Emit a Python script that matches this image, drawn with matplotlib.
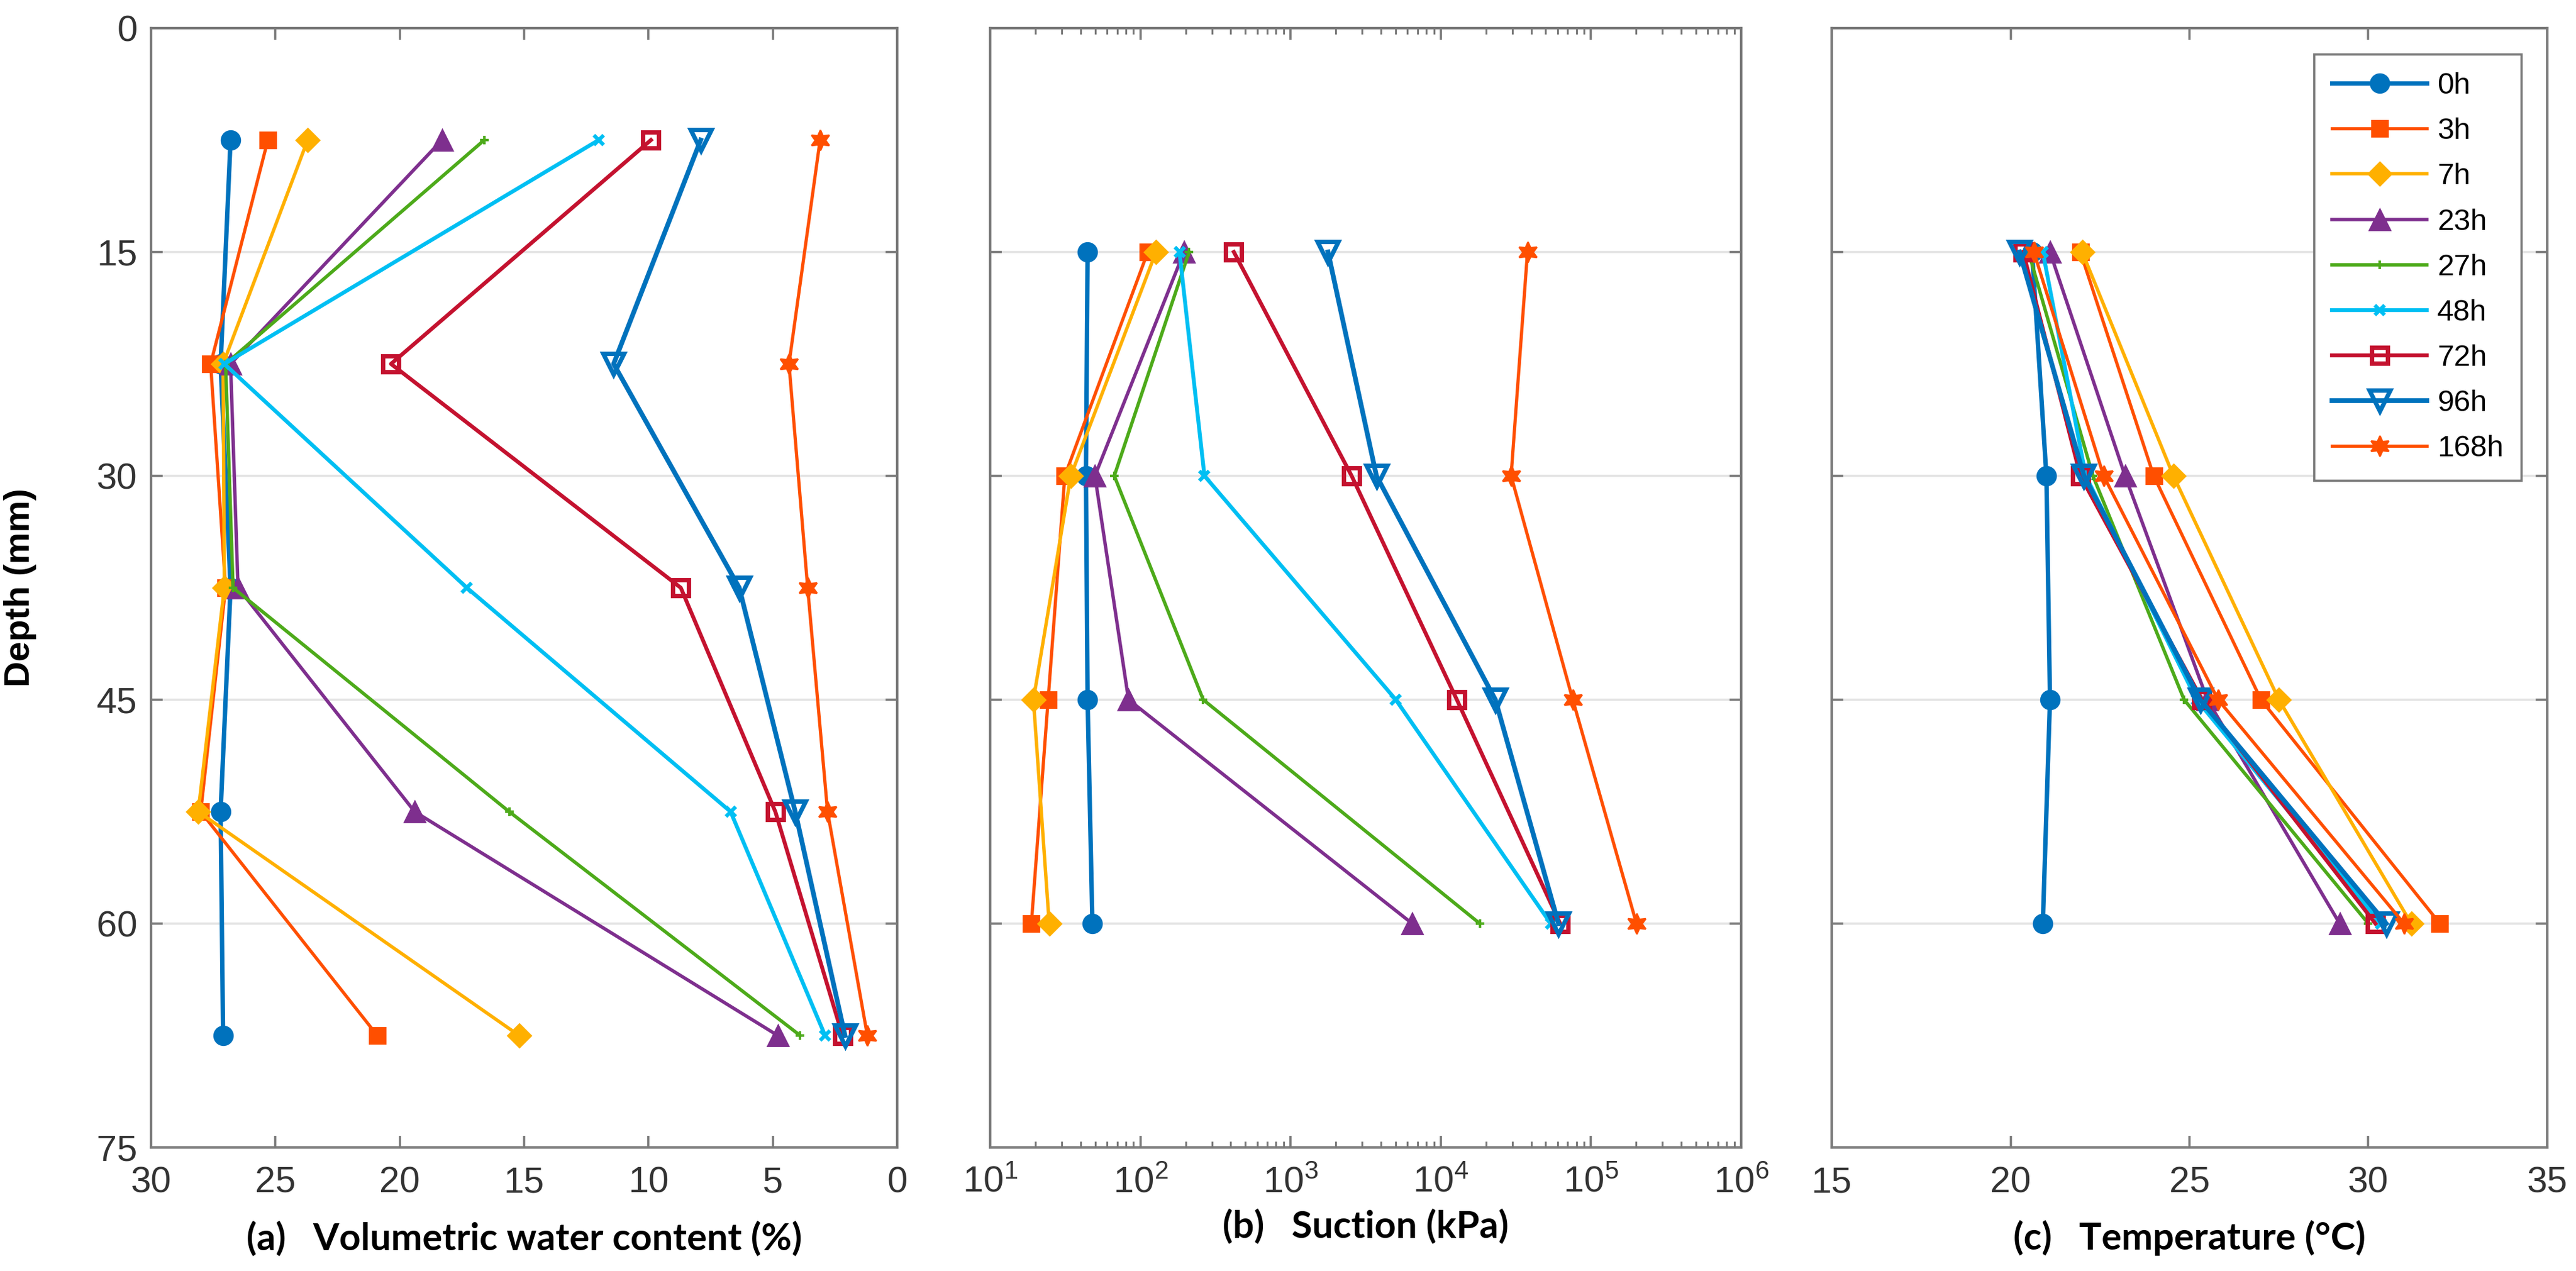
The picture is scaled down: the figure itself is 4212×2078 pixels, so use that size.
import matplotlib
matplotlib.use('Agg')
import matplotlib.pyplot as plt
from matplotlib.ticker import LogLocator, NullFormatter

plt.rcParams['font.family'] = ['Liberation Sans', 'DejaVu Sans']
plt.rcParams['mathtext.fontset'] = 'custom'
plt.rcParams['mathtext.rm'] = 'Liberation Sans'
plt.rcParams['mathtext.it'] = 'Liberation Sans:italic'

# series names (legend)
times = ['0h', '3h', '7h', '23h', '27h', '48h', '72h', '96h', '168h']

# depths of the sensors (mm)
depth_vwc = [7.5, 22.5, 37.5, 52.5, 67.5]
depth_suc = [15, 30, 45, 60]

# (a) volumetric water content (%), one row per time
vwc = [
    [26.8, 27.2, 26.8, 27.2, 27.1],
    [25.3, 27.6, 27.0, 28.0, 20.9],
    [23.7, 27.1, 27.05, 28.1, 15.2],
    [18.3, 26.8, 26.5, 19.4, 4.8],
    [16.6, 27.0, 26.7, 15.6, 3.9],
    [12.0, 27.05, 17.3, 6.7, 2.9],
    [9.9, 20.35, 8.7, 4.9, 2.2],
    [7.9, 11.4, 6.35, 4.1, 2.1],
    [3.1, 4.35, 3.6, 2.8, 1.2],
]

# (b) suction (kPa)
suction = [
    [44.5, 43.4, 44.5, 47.9],
    [112, 31.4, 24.3, 18.8],
    [127, 34.4, 19.4, 24.7],
    [195, 49.8, 83.4, 6460],
    [211, 67, 262, 18200],
    [182, 267, 5020, 54000],
    [419, 2550, 12800, 62400],
    [1775, 3730, 23100, 60800],
    [37800, 29400, 75700, 201000],
]

# (c) temperature (degC)
temperature = [
    [20.6, 21.0, 21.1, 20.9],
    [21.95, 24.0, 27.0, 32.0],
    [22.0, 24.55, 27.5, 31.2],
    [21.1, 23.2, 25.5, 29.2],
    [20.5, 22.3, 24.85, 30.0],
    [20.9, 22.1, 25.2, 30.35],
    [20.35, 21.95, 25.35, 30.2],
    [20.25, 22.05, 25.3, 30.5],
    [20.65, 22.6, 25.8, 31.0],
]

depth_ticks = [0, 15, 30, 45, 60, 75]
vwc_ticks = [30, 25, 20, 15, 10, 5, 0]
temp_ticks = [15, 20, 25, 30, 35]

hexagram = (6, 1, 0)
styles = [
    dict(color='#0072BD', marker='o', ms=11, lw=2.6),
    dict(color='#FF4F00', marker='s', ms=9.5, lw=1.9),
    dict(color='#FFB000', marker='D', ms=9.5, lw=2.0),
    dict(color='#7E2F8E', marker='^', ms=12, lw=2.0),
    dict(color='#4DAA1A', marker='+', ms=5, lw=2.0, mew=1.5),
    dict(color='#00BFF3', marker='x', ms=6, lw=2.3, mew=2.2),
    dict(color='#C4122F', marker='s', ms=9.5, lw=2.3, mfc='none', mew=2.6),
    dict(color='#0072BD', marker='v', ms=12, lw=2.8, mfc='none', mew=2.6),
    dict(color='#FF4F00', marker=hexagram, ms=12, lw=1.9),
]

axis_gray = '#7a7a7a'
label_color = '#333333'

fig = plt.figure(figsize=(21.06, 10.39), dpi=200)
bottom, height = 0.0972, 0.8807
ax_a = fig.add_axes([0.0586, bottom, 0.2897, height])
ax_b = fig.add_axes([0.3844, bottom, 0.2915, height])
ax_c = fig.add_axes([0.7111, bottom, 0.2777, height])

for i, t in enumerate(times):
    ax_a.plot(vwc[i], depth_vwc, label=t, **styles[i])
    ax_b.plot(suction[i], depth_suc, label=t, **styles[i])
    ax_c.plot(temperature[i], depth_suc, label=t, **styles[i])

xlabel_font = dict(family=['Lato', 'DejaVu Sans'], weight='bold', size=22, color='black')

for ax in (ax_a, ax_b, ax_c):
    ax.set_ylim(75, 0)
    ax.set_yticks(depth_ticks)
    ax.yaxis.grid(True, color='#e3e3e3', lw=1.3)
    ax.set_axisbelow(True)
    for sp in ax.spines.values():
        sp.set_color(axis_gray)
        sp.set_linewidth(1.5)
    ax.tick_params(which='both', direction='in', top=True, right=True,
                   color=axis_gray, labelcolor=label_color, labelsize=21.5)
    ax.tick_params(which='major', length=7, width=1.3, pad=11)
    ax.tick_params(which='minor', length=3.5, width=1.1)

ax_a.set_xlim(30, 0)
ax_a.set_xticks(vwc_ticks)
ax_a.set_ylabel('Depth (mm)', fontsize=21, fontweight='bold', color='black')
ax_a.yaxis.set_label_coords(-0.153, 0.5)
ax_a.tick_params(axis='y', pad=8)
ax_a.set_xlabel('(a)   Volumetric water content (%)', labelpad=12, **xlabel_font)

ax_b.set_xscale('log')
ax_b.set_xlim(1e1, 1e6)
ax_b.xaxis.set_major_locator(LogLocator(base=10, numticks=10))
ax_b.xaxis.set_minor_locator(LogLocator(base=10, subs=range(2, 10), numticks=20))
ax_b.xaxis.set_minor_formatter(NullFormatter())
ax_b.set_yticklabels([])
ax_b.set_xlabel('(b)   Suction (kPa)', labelpad=5, **xlabel_font)

ax_c.set_xlim(15, 35)
ax_c.set_xticks(temp_ticks)
ax_c.set_yticklabels([])
ax_c.set_xlabel('(c)   Temperature (°C)', labelpad=12, **xlabel_font)

leg = ax_c.legend(loc='upper right', bbox_to_anchor=(1 - 42 / 1170, 1 - 43 / 1830),
                  borderaxespad=0, fontsize=17.5, handlelength=3.2, handletextpad=0.35,
                  labelspacing=0.6, borderpad=0.6, fancybox=False, framealpha=1)
leg.get_frame().set_edgecolor(axis_gray)
leg.get_frame().set_linewidth(1.3)

fig.savefig('out.png', dpi=200)
